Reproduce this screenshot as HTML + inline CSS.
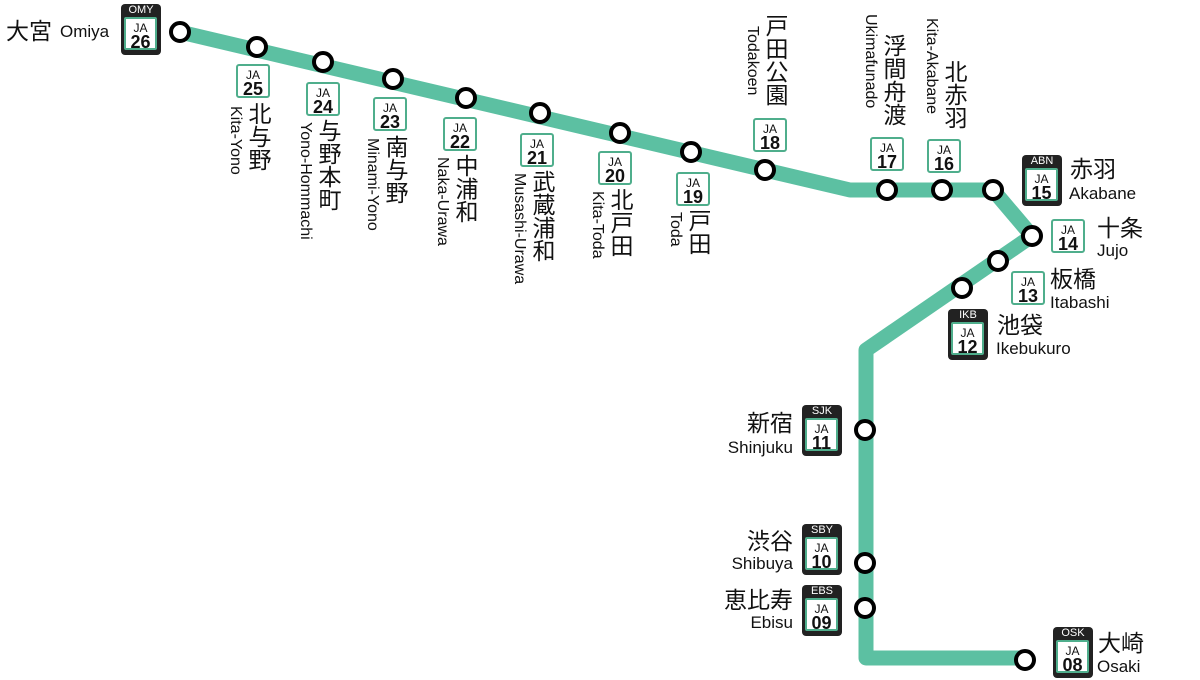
<!DOCTYPE html>
<html><head><meta charset="utf-8"><style>
body{margin:0;width:1200px;height:680px;background:#fff;position:relative;overflow:hidden;font-family:"Liberation Sans","Noto Sans CJK JP",sans-serif;color:#111}
.a{position:absolute;white-space:nowrap;line-height:1}
.jp{font-size:23px}
.en{font-size:17px}
.v{writing-mode:vertical-rl}
.v.en{font-size:16px}
.r{text-align:right;width:120px}
.b{position:absolute;width:30px;height:30px;border:2.5px solid #4fae8c;border-radius:3px;background:#fff;text-align:center;box-sizing:content-box}
.b i{display:block;font-style:normal;font-size:12px;line-height:12px;margin-top:3px}
.b s{display:block;text-decoration:none;font-weight:bold;font-size:18px;line-height:16px}
.B{position:absolute;width:40px;height:51px;background:#222;border-radius:4px;text-align:center;color:#fff;font-size:11px;line-height:13px}
.B .in{position:absolute;left:3px;top:13px;width:29px;height:29px;border:2.5px solid #4fae8c;background:#fff;border-radius:2px;color:#111}
.B i{display:block;font-style:normal;font-size:12px;line-height:12px;margin-top:3px}
.B s{display:block;text-decoration:none;font-weight:bold;font-size:18px;line-height:16px}
</style></head><body>
<svg width="1200" height="680" style="position:absolute;left:0;top:0">
<polyline points="180,32 850,190 993,190 1032,236 866,350 866,658 1025,658" fill="none" stroke="#5cc0a2" stroke-width="15" stroke-linejoin="round"/>
<g fill="#fff" stroke="#000" stroke-width="4">
<circle cx="180" cy="32" r="9"/><circle cx="257" cy="47" r="9"/><circle cx="323" cy="62" r="9"/><circle cx="393" cy="79" r="9"/><circle cx="466" cy="98" r="9"/><circle cx="540" cy="113" r="9"/><circle cx="620" cy="133" r="9"/><circle cx="691" cy="152" r="9"/><circle cx="765" cy="170" r="9"/><circle cx="887" cy="190" r="9"/><circle cx="942" cy="190" r="9"/><circle cx="993" cy="190" r="9"/><circle cx="1032" cy="236" r="9"/><circle cx="998" cy="261" r="9"/><circle cx="962" cy="288" r="9"/><circle cx="865" cy="430" r="9"/><circle cx="865" cy="563" r="9"/><circle cx="865" cy="608" r="9"/><circle cx="1025" cy="660" r="9"/>
</g></svg>

<div class="a jp" style="left:6px;top:20px">大宮</div><div class="a en" style="left:60px;top:23px">Omiya</div>
<div class="B" style="left:121px;top:4px">OMY<div class="in"><i>JA</i><s>26</s></div></div>

<div class="b" style="left:236px;top:64px"><i>JA</i><s>25</s></div>
<div class="a jp v" style="left:246px;top:102px">北与野</div><div class="a en v" style="left:227px;top:106px">Kita-Yono</div>
<div class="b" style="left:306px;top:82px"><i>JA</i><s>24</s></div>
<div class="a jp v" style="left:316px;top:119px">与野本町</div><div class="a en v" style="left:297px;top:122px">Yono-Hommachi</div>
<div class="b" style="left:373px;top:97px"><i>JA</i><s>23</s></div>
<div class="a jp v" style="left:383px;top:135px">南与野</div><div class="a en v" style="left:364px;top:138px">Minami-Yono</div>
<div class="b" style="left:443px;top:117px"><i>JA</i><s>22</s></div>
<div class="a jp v" style="left:453px;top:154px">中浦和</div><div class="a en v" style="left:434px;top:157px">Naka-Urawa</div>
<div class="b" style="left:520px;top:133px"><i>JA</i><s>21</s></div>
<div class="a jp v" style="left:530px;top:170px">武蔵浦和</div><div class="a en v" style="left:511px;top:173px">Musashi-Urawa</div>
<div class="b" style="left:598px;top:151px"><i>JA</i><s>20</s></div>
<div class="a jp v" style="left:608px;top:188px">北戸田</div><div class="a en v" style="left:589px;top:191px">Kita-Toda</div>
<div class="b" style="left:676px;top:172px"><i>JA</i><s>19</s></div>
<div class="a jp v" style="left:686px;top:209px">戸田</div><div class="a en v" style="left:667px;top:212px">Toda</div>

<div class="b" style="left:753px;top:118px"><i>JA</i><s>18</s></div>
<div class="a jp v" style="left:763px;top:14px">戸田公園</div><div class="a en v" style="left:744px;top:26px">Todakoen</div>
<div class="b" style="left:870px;top:137px"><i>JA</i><s>17</s></div>
<div class="a jp v" style="left:881px;top:34px">浮間舟渡</div><div class="a en v" style="left:862px;top:14px">Ukimafunado</div>
<div class="b" style="left:927px;top:139px"><i>JA</i><s>16</s></div>
<div class="a jp v" style="left:942px;top:60px">北赤羽</div><div class="a en v" style="left:923px;top:18px">Kita-Akabane</div>

<div class="B" style="left:1022px;top:155px">ABN<div class="in"><i>JA</i><s>15</s></div></div>
<div class="a jp" style="left:1070px;top:158px">赤羽</div><div class="a en" style="left:1069px;top:185px">Akabane</div>
<div class="b" style="left:1051px;top:219px"><i>JA</i><s>14</s></div>
<div class="a jp" style="left:1097px;top:217px">十条</div><div class="a en" style="left:1097px;top:242px">Jujo</div>
<div class="b" style="left:1011px;top:271px"><i>JA</i><s>13</s></div>
<div class="a jp" style="left:1050px;top:268px">板橋</div><div class="a en" style="left:1050px;top:294px">Itabashi</div>
<div class="B" style="left:948px;top:309px">IKB<div class="in"><i>JA</i><s>12</s></div></div>
<div class="a jp" style="left:997px;top:314px">池袋</div><div class="a en" style="left:996px;top:340px">Ikebukuro</div>

<div class="B" style="left:802px;top:405px">SJK<div class="in"><i>JA</i><s>11</s></div></div>
<div class="a jp r" style="left:673px;top:412px">新宿</div><div class="a en r" style="left:673px;top:439px">Shinjuku</div>
<div class="B" style="left:802px;top:524px">SBY<div class="in"><i>JA</i><s>10</s></div></div>
<div class="a jp r" style="left:673px;top:530px">渋谷</div><div class="a en r" style="left:673px;top:555px">Shibuya</div>
<div class="B" style="left:802px;top:585px">EBS<div class="in"><i>JA</i><s>09</s></div></div>
<div class="a jp r" style="left:673px;top:589px">恵比寿</div><div class="a en r" style="left:673px;top:614px">Ebisu</div>
<div class="B" style="left:1053px;top:627px">OSK<div class="in"><i>JA</i><s>08</s></div></div>
<div class="a jp" style="left:1098px;top:632px">大崎</div><div class="a en" style="left:1097px;top:658px">Osaki</div>
</body></html>
